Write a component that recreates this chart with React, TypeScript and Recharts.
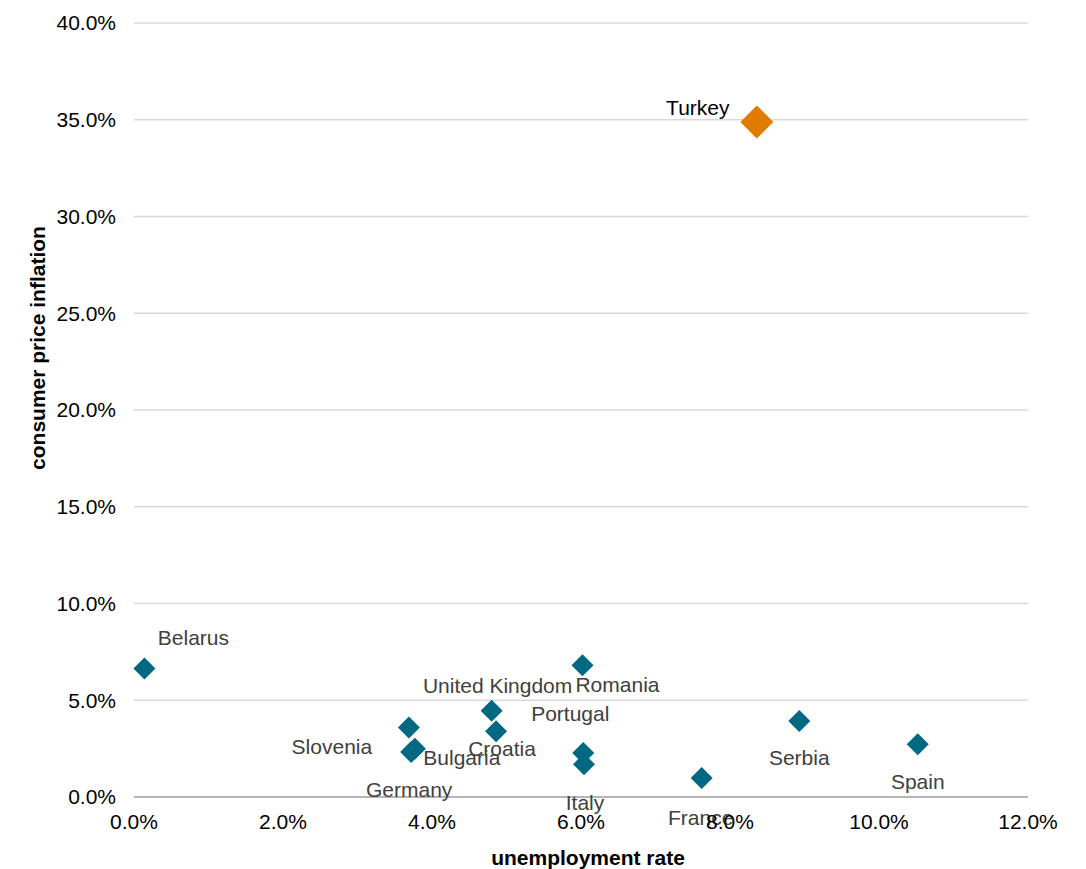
import React from 'react';
import { ScatterChart, Scatter, XAxis, YAxis, CartesianGrid } from 'recharts';

// unemployment rate (%) vs consumer price inflation (%)
const countries = [
  'Belarus',
  'Romania',
  'United Kingdom',
  'Croatia',
  'Slovenia',
  'Bulgaria',
  'Germany',
  'Portugal',
  'Italy',
  'France',
  'Serbia',
  'Spain',
];
const unemployment = [0.14, 6.02, 4.8, 4.86, 3.69, 3.77, 3.72, 6.03, 6.04, 7.62, 8.93, 10.52];
const inflation = [6.64, 6.81, 4.46, 3.4, 3.59, 2.5, 2.33, 2.28, 1.69, 0.98, 3.93, 2.73];

const highlightName = 'Turkey';
const highlightUnemployment = 8.36;
const highlightInflation = 34.89;

const xTicks = [0, 2, 4, 6, 8, 10, 12];
const yTicks = [0, 5, 10, 15, 20, 25, 30, 35, 40];

// where each country label sits relative to its marker
const labelOffsets: Record<string, [number, number]> = {
  Belarus: [49, -31],
  Turkey: [-59, -14],
  Romania: [35, 19],
  'United Kingdom': [6, -25],
  Portugal: [-13, -39],
  Slovenia: [-77, 19],
  Croatia: [6, 17],
  Bulgaria: [47, 9],
  Germany: [-2, 38],
  Italy: [1, 38],
  France: [-1, 39],
  Serbia: [0, 37],
  Spain: [0, 37],
};

const FONT = '"Liberation Sans", Arial, sans-serif';
const TEAL = '#006982';
const ORANGE = '#E07B00';

const data = countries.map((name, i) => ({ name, x: unemployment[i], y: inflation[i] }));
const highlight = [{ name: highlightName, x: highlightUnemployment, y: highlightInflation }];

const pct = (v: number) => `${v.toFixed(1)}%`;

function diamond(fill: string, r: number, textColor: string) {
  return (props: any) => {
    const { cx, cy, payload } = props;
    const [dx, dy] = labelOffsets[payload.name] || [0, -20];
    return (
      <g>
        <polygon
          points={`${cx},${cy - r} ${cx + r},${cy} ${cx},${cy + r} ${cx - r},${cy}`}
          fill={fill}
        />
        <text
          x={cx + dx}
          y={cy + dy}
          textAnchor="middle"
          dominantBaseline="central"
          fontSize={21}
          fontFamily={FONT}
          fill={textColor}
        >
          {payload.name}
        </text>
      </g>
    );
  };
}

export default function App() {
  return (
    <div style={{ position: 'absolute', left: 0, top: 0, background: '#fff' }}>
      <ScatterChart
        width={1086}
        height={869}
        margin={{ top: 23, right: 58, bottom: 0, left: 0 }}
      >
        <CartesianGrid vertical={false} stroke="#d9d9d9" strokeWidth={1.3} />
        <XAxis
          type="number"
          dataKey="x"
          domain={[0, 12]}
          ticks={xTicks}
          tickFormatter={pct}
          height={72}
          tickLine={false}
          tickSize={0}
          tickMargin={17}
          axisLine={{ stroke: '#a6a6a6', strokeWidth: 1.5 }}
          tick={{ fill: '#000', fontSize: 21, fontFamily: FONT }}
          label={{
            value: 'unemployment rate',
            position: 'insideBottom',
            offset: 4,
            dx: 7,
            fill: '#000',
            fontSize: 21,
            fontWeight: 'bold',
            fontFamily: FONT,
          }}
        />
        <YAxis
          type="number"
          dataKey="y"
          domain={[0, 40]}
          ticks={yTicks}
          tickFormatter={pct}
          width={134}
          tickLine={false}
          axisLine={false}
          tickSize={0}
          tickMargin={18}
          tick={{ fill: '#000', fontSize: 21, fontFamily: FONT }}
          label={{
            value: 'consumer price inflation',
            content: (p: any) => {
              const vb = p.viewBox;
              const cx = vb.x + 37;
              const cy = vb.y + vb.height / 2 - 62;
              return (
                <text
                  x={cx}
                  y={cy}
                  transform={`rotate(-90, ${cx}, ${cy})`}
                  textAnchor="middle"
                  dominantBaseline="central"
                  fontSize={21}
                  fontWeight="bold"
                  fontFamily={FONT}
                  fill="#000"
                >
                  consumer price inflation
                </text>
              );
            },
          }}
        />
        <Scatter data={data} isAnimationActive={false} shape={diamond(TEAL, 11, '#404040')} />
        <Scatter
          data={highlight}
          isAnimationActive={false}
          shape={diamond(ORANGE, 16.5, '#000')}
        />
      </ScatterChart>
    </div>
  );
}
